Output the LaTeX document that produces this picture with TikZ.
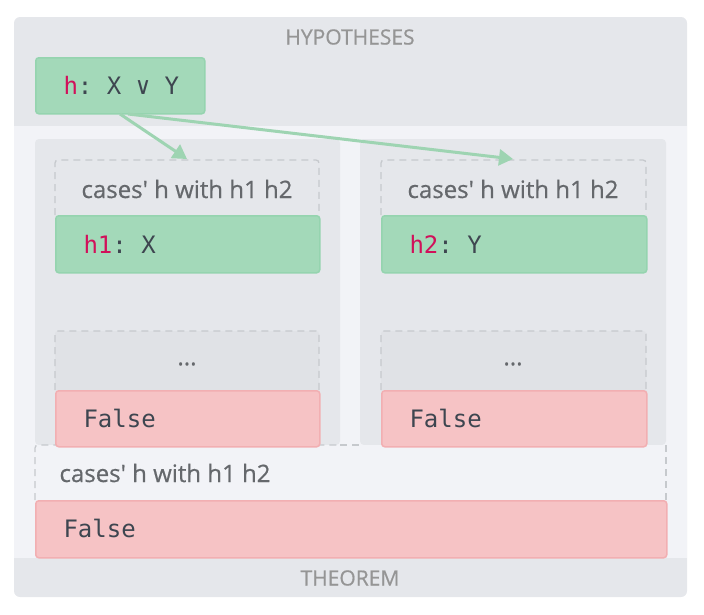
\documentclass[tikz,border=0pt]{standalone}
\usepackage{fontspec}
\setmainfont{Open Sans}[FakeBold=0.6]
\setmonofont{DejaVu Sans Mono}
\usetikzlibrary{arrows.meta,calc}
\definecolor{panel}{HTML}{E5E7EB}
\definecolor{light}{HTML}{F2F3F7}
\definecolor{grn}{HTML}{A3D9B9}
\definecolor{grnb}{HTML}{95D4AF}
\definecolor{red}{HTML}{F6C3C5}
\definecolor{redb}{HTML}{F2AFB2}
\definecolor{dash}{HTML}{C6C9CD}
\definecolor{lbl}{HTML}{959595}
\definecolor{txt}{HTML}{65686C}
\definecolor{code}{HTML}{3E4650}
\definecolor{kw}{HTML}{D1105A}
\definecolor{arr}{HTML}{9ED4B2}
\newcommand{\ap}{\textquotesingle}
\begin{document}
\begin{tikzpicture}[x=1pt,y=-1pt,
  box/.style={rounded corners=3pt,line width=1.5pt,anchor=north west,inner sep=0pt},
  gbox/.style={box,fill=grn,draw=grnb},
  rbox/.style={box,fill=red,draw=redb},
  dbox/.style={rounded corners=3pt,draw=dash,line width=1.3pt,dash pattern=on 7pt off 5pt},
  codet/.style={font=\ttfamily\fontsize{24}{28}\selectfont,text=code,anchor=west},
  capt/.style={font=\fontsize{24}{28}\selectfont,text=txt},
  head/.style={font=\fontsize{21}{24}\selectfont,text=lbl},
  ar/.style={arr,line width=3pt,-{Triangle[length=14pt,width=16pt]}}]
\useasboundingbox (0,0) rectangle (704,614);
\fill[panel,rounded corners=6pt] (14,17) rectangle (687,597);
\fill[light] (14,126) rectangle (687,558);
\node[head] (hyp) at (350,37) {HYPOTHESES};
\node[head] (thm) at (350,578) {THEOREM};
% columns
\fill[panel,rounded corners=4pt] (35,139) rectangle (340,445);
\fill[panel,rounded corners=4pt] (360,139) rectangle (666,445);
% bottom case
\fill[light] (35,445) rectangle (666,500);
\draw[dbox] (35,500) -- (35,445) -- (340,445);
\draw[dbox] (340,445) -- (360,445);
\draw[dbox] (666,445) -- (666,500);
\node[capt,anchor=west] (c3) at (56,473) {cases\ap{} h with h1 h2};
\node[rbox,minimum width=631pt,minimum height=57pt] (f3) at (35,500) {};
\node[codet] at (60,528) {False};
% left column
\draw[dbox] (55,215) -- (55,160) -- (319,160) -- (319,215);
\node[capt] (c1) at (187,189) {cases\ap{} h with h1 h2};
\node[gbox,minimum width=264pt,minimum height=57pt] (h1) at (55,215) {};
\node[codet] at (80,244) {\textcolor{kw}{h1}: X};
\draw[dbox,fill=panel!95!gray] (55,390) -- (55,331) -- (319,331) -- (319,390);
\node[capt] (d1) at (187,364) {...};
\node[rbox,minimum width=264pt,minimum height=56pt] (f1) at (55,390) {};
\node[codet] at (80,418) {False};
% right column
\draw[dbox] (381,215) -- (381,160) -- (646,160) -- (646,215);
\node[capt] (c2) at (513,189) {cases\ap{} h with h1 h2};
\node[gbox,minimum width=265pt,minimum height=57pt] (h2) at (381,215) {};
\node[codet] at (406,244) {\textcolor{kw}{h2}: Y};
\draw[dbox,fill=panel!95!gray] (381,390) -- (381,331) -- (646,331) -- (646,390);
\node[capt] (d2) at (513,364) {...};
\node[rbox,minimum width=265pt,minimum height=56pt] (f2) at (381,390) {};
\node[codet] at (406,418) {False};
% hypothesis
\node[gbox,minimum width=169pt,minimum height=56pt] (h) at (35,57) {};
\node[codet] at (60,85) {\textcolor{kw}{h}: X ∨ Y};
\coordinate (s1) at (120,114);
\coordinate (s2) at (128,114);
\coordinate (t1) at (187,159);
\coordinate (t2) at (513,159);
\draw[ar] (s1) -- (t1);
\draw[ar] (s2) -- (t2);
\end{tikzpicture}
\end{document}
